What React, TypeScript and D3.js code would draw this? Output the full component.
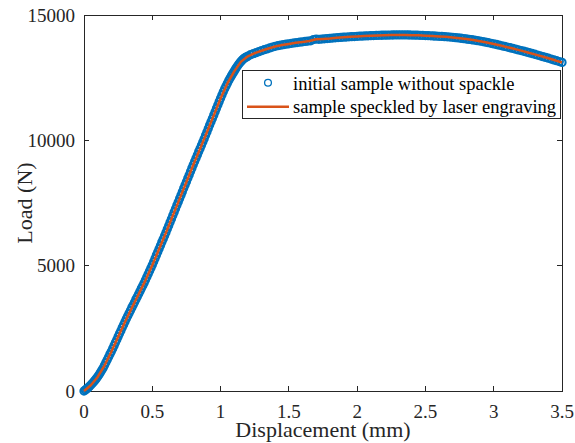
import * as d3 from "d3";

const width = 575;
const height = 443;
const marginLeft = 84;
const marginRight = 13;
const marginTop = 15;
const marginBottom = 52;

const xTicks = [0, 0.5, 1, 1.5, 2, 2.5, 3, 3.5];
const yTicks = [0, 5000, 10000, 15000];

const legendLabels = ["initial sample without spackle", "sample speckled by laser engraving"];

// initial sample (blue circles)
const displacementInitial = [
  0, 0.01, 0.02, 0.03, 0.04, 0.05, 0.06, 0.07, 0.08, 0.09,
  0.1, 0.11, 0.12, 0.13, 0.14, 0.15, 0.16, 0.17, 0.18, 0.19,
  0.2, 0.21, 0.22, 0.23, 0.24, 0.25, 0.26, 0.27, 0.28, 0.29,
  0.3, 0.31, 0.32, 0.33, 0.34, 0.35, 0.36, 0.37, 0.38, 0.39,
  0.4, 0.41, 0.42, 0.43, 0.44, 0.45, 0.46, 0.47, 0.48, 0.49,
  0.5, 0.51, 0.52, 0.53, 0.54, 0.55, 0.56, 0.57, 0.58, 0.59,
  0.6, 0.61, 0.62, 0.63, 0.64, 0.65, 0.66, 0.67, 0.68, 0.69,
  0.7, 0.71, 0.72, 0.73, 0.74, 0.75, 0.76, 0.77, 0.78, 0.79,
  0.8, 0.81, 0.82, 0.83, 0.84, 0.85, 0.86, 0.87, 0.88, 0.89,
  0.9, 0.91, 0.92, 0.93, 0.94, 0.95, 0.96, 0.97, 0.98, 0.99,
  1.0, 1.01, 1.02, 1.03, 1.04, 1.05, 1.06, 1.07, 1.08, 1.09,
  1.1, 1.11, 1.12, 1.13, 1.14, 1.15, 1.16, 1.17, 1.18, 1.19,
  1.2,
  1.22, 1.24, 1.26, 1.28, 1.3, 1.32, 1.34, 1.36, 1.38, 1.4,
  1.42, 1.44, 1.46, 1.48, 1.5, 1.52, 1.54, 1.56, 1.58, 1.6,
  1.62, 1.64, 1.66, 1.68, 1.7, 1.72, 1.74, 1.76, 1.78, 1.8,
  1.82, 1.84, 1.86, 1.88, 1.9, 1.92, 1.94, 1.96, 1.98, 2.0,
  2.02, 2.04, 2.06, 2.08, 2.1, 2.12, 2.14, 2.16, 2.18, 2.2,
  2.22, 2.24, 2.26, 2.28, 2.3, 2.32, 2.34, 2.36, 2.38, 2.4,
  2.42, 2.44, 2.46, 2.48, 2.5, 2.52, 2.54, 2.56, 2.58, 2.6,
  2.62, 2.64, 2.66, 2.68, 2.7, 2.72, 2.74, 2.76, 2.78, 2.8,
  2.82, 2.84, 2.86, 2.88, 2.9, 2.92, 2.94, 2.96, 2.98, 3.0,
  3.02, 3.04, 3.06, 3.08, 3.1, 3.12, 3.14, 3.16, 3.18, 3.2,
  3.22, 3.24, 3.26, 3.28, 3.3, 3.32, 3.34, 3.36, 3.38, 3.4,
  3.42, 3.44, 3.46, 3.48, 3.5,
];
const loadInitial = [
  0, 40, 85, 130, 185, 240, 300, 360, 425, 495,
  570, 650, 735, 825, 920, 1025, 1135, 1245, 1355, 1470,
  1575, 1690, 1810, 1930, 2045, 2170, 2290, 2405, 2530, 2645,
  2760, 2880, 2990, 3100, 3210, 3325, 3430, 3540, 3655, 3760,
  3870, 3980, 4095, 4200, 4310, 4425, 4545, 4665, 4790, 4905,
  5025, 5155, 5285, 5420, 5545, 5675, 5805, 5940, 6065, 6195,
  6325, 6460, 6595, 6735, 6865, 7000, 7135, 7270, 7410, 7540,
  7675, 7810, 7945, 8085, 8215, 8350, 8485, 8620, 8760, 8890,
  9025, 9155, 9285, 9415, 9550, 9675, 9805, 9935, 10065, 10200,
  10335, 10470, 10610, 10740, 10870, 11005, 11140, 11275, 11410, 11545,
  11680, 11810, 11935, 12055, 12170, 12280, 12385, 12485, 12580, 12670,
  12760, 12850, 12935, 13015, 13085, 13150, 13210, 13260, 13300, 13330,
  13355,
  13420, 13460, 13500, 13540, 13580, 13615, 13650, 13685, 13720, 13750,
  13775, 13795, 13815, 13835, 13850, 13870, 13885, 13900, 13915, 13930,
  13945, 13960, 13970, 14020, 14040, 14030, 14040, 14050, 14060, 14070,
  14080, 14090, 14100, 14105, 14115, 14120, 14130, 14135, 14140, 14150,
  14155, 14160, 14165, 14170, 14175, 14180, 14185, 14190, 14192, 14195,
  14198, 14200, 14202, 14205, 14205, 14207, 14205, 14205, 14202, 14200,
  14198, 14195, 14190, 14185, 14180, 14175, 14170, 14162, 14155, 14150,
  14145, 14138, 14130, 14120, 14110, 14098, 14085, 14072, 14058, 14043,
  14028, 14012, 13995, 13978, 13960, 13940, 13918, 13895, 13872, 13848,
  13823, 13798, 13772, 13746, 13720, 13693, 13666, 13638, 13610, 13582,
  13553, 13524, 13494, 13464, 13434, 13403, 13372, 13340, 13308, 13276,
  13243, 13210, 13177, 13143, 13110,
];

// laser speckled sample (orange line)
const displacementLaser = [
  0, 0.05, 0.1, 0.15, 0.2, 0.25, 0.3, 0.35, 0.4, 0.45,
  0.5, 0.55, 0.6, 0.65, 0.7, 0.75, 0.8, 0.85, 0.9, 0.95,
  1.0, 1.05, 1.1, 1.15, 1.2, 1.25, 1.3, 1.35, 1.4, 1.45,
  1.5, 1.55, 1.6, 1.65, 1.7, 1.75, 1.8, 1.85, 1.9, 1.95,
  2.0, 2.05, 2.1, 2.15, 2.2, 2.25, 2.3, 2.35, 2.4, 2.45,
  2.5, 2.55, 2.6, 2.65, 2.7, 2.75, 2.8, 2.85, 2.9, 2.95,
  3.0, 3.05, 3.1, 3.15, 3.2, 3.25, 3.3, 3.35, 3.4, 3.45,
  3.5,
];
const loadLaser = [
  0, 230, 560, 1015, 1565, 2160, 2750, 3310, 3860, 4415,
  5015, 5665, 6315, 6990, 7665, 8340, 9015, 9665, 10325, 10995,
  11670, 12270, 12750, 13140, 13350, 13480, 13575, 13665, 13745, 13805,
  13845, 13890, 13925, 13965, 14030, 14045, 14065, 14095, 14110, 14130,
  14145, 14160, 14170, 14185, 14190, 14198, 14200, 14200, 14195, 14188,
  14175, 14160, 14145, 14128, 14105, 14075, 14040, 14000, 13955, 13905,
  13845, 13782, 13715, 13650, 13578, 13505, 13430, 13355, 13272, 13192,
  13105,
];

const blue = "#0072BD";
const orange = "#D95319";
const axisColor = "#262626";
const font = "'Liberation Serif', 'Times New Roman', serif";

export default function App() {
  const x = d3
    .scaleLinear()
    .domain([0, 3.5])
    .range([marginLeft, width - marginRight]);
  const y = d3
    .scaleLinear()
    .domain([0, 15000])
    .range([height - marginBottom, marginTop]);

  const initial = displacementInitial.map((d, i) => [d, loadInitial[i]]);
  const laser = displacementLaser.map((d, i) => [d, loadLaser[i]]);

  const line = d3
    .line<number[]>()
    .x((d) => x(d[0]))
    .y((d) => y(d[1]));

  const x0 = x.range()[0];
  const x1 = x.range()[1];
  const yb = y.range()[0];
  const yt = y.range()[1];
  const tick = 5;

  // legend box
  const lgX = 242;
  const lgY = 70;
  const lgW = 318;
  const lgH = 48;

  return (
    <svg
      width={width}
      height={height}
      viewBox={`0 0 ${width} ${height}`}
      style={{ position: "absolute", left: 0, top: 0, background: "#fff" }}
      fontFamily={font}
    >
      <rect x={0} y={0} width={width} height={height} fill="#fff" />
      {/* axes box */}
      <g stroke={axisColor} strokeWidth={1} fill="none" shapeRendering="crispEdges">
        <rect x={x0} y={yt} width={x1 - x0} height={yb - yt} />
        {xTicks.map((t) => (
          <g key={"xt" + t}>
            <line x1={x(t)} x2={x(t)} y1={yb} y2={yb - tick} />
            <line x1={x(t)} x2={x(t)} y1={yt} y2={yt + tick} />
          </g>
        ))}
        {yTicks.map((t) => (
          <g key={"yt" + t}>
            <line x1={x0} x2={x0 + tick} y1={y(t)} y2={y(t)} />
            <line x1={x1} x2={x1 - tick} y1={y(t)} y2={y(t)} />
          </g>
        ))}
      </g>
      {/* tick labels */}
      <g fill={axisColor} fontSize={19}>
        {xTicks.map((t) => (
          <text key={"xl" + t} x={x(t)} y={yb + 26.5} textAnchor="middle">
            {String(t)}
          </text>
        ))}
        {yTicks.map((t) => (
          <text key={"yl" + t} x={x0 - 9} y={y(t) + 6.5} textAnchor="end">
            {String(t)}
          </text>
        ))}
      </g>
      {/* axis labels */}
      <text
        x={(x0 + x1) / 2}
        y={437}
        textAnchor="middle"
        fontSize={22}
        fill={axisColor}
      >
        Displacement (mm)
      </text>
      <text
        transform={`translate(31.5,${(yt + yb) / 2}) rotate(-90)`}
        textAnchor="middle"
        fontSize={22}
        fill={axisColor}
      >
        Load (N)
      </text>
      {/* data */}
      <g fill="none" stroke={blue} strokeWidth={2.1}>
        {initial.map((d, i) => (
          <circle key={i} cx={x(d[0])} cy={y(d[1])} r={3.6} />
        ))}
      </g>
      <path d={line(laser) ?? ""} fill="none" stroke={orange} strokeWidth={2.5} strokeLinejoin="round" />
      {/* legend */}
      <g>
        <rect x={lgX} y={lgY} width={lgW} height={lgH} fill="#fff" stroke={axisColor} strokeWidth={1} shapeRendering="crispEdges" />
        <circle cx={268} cy={82.7} r={3.4} fill="none" stroke={blue} strokeWidth={1.3} />
        <line x1={247} x2={289} y1={106.7} y2={106.7} stroke={orange} strokeWidth={2.5} />
        <text x={293} y={89.5} fontSize={18.5} fill="#000">
          {legendLabels[0]}
        </text>
        <text x={293} y={113} fontSize={18.5} fill="#000">
          {legendLabels[1]}
        </text>
      </g>
    </svg>
  );
}
